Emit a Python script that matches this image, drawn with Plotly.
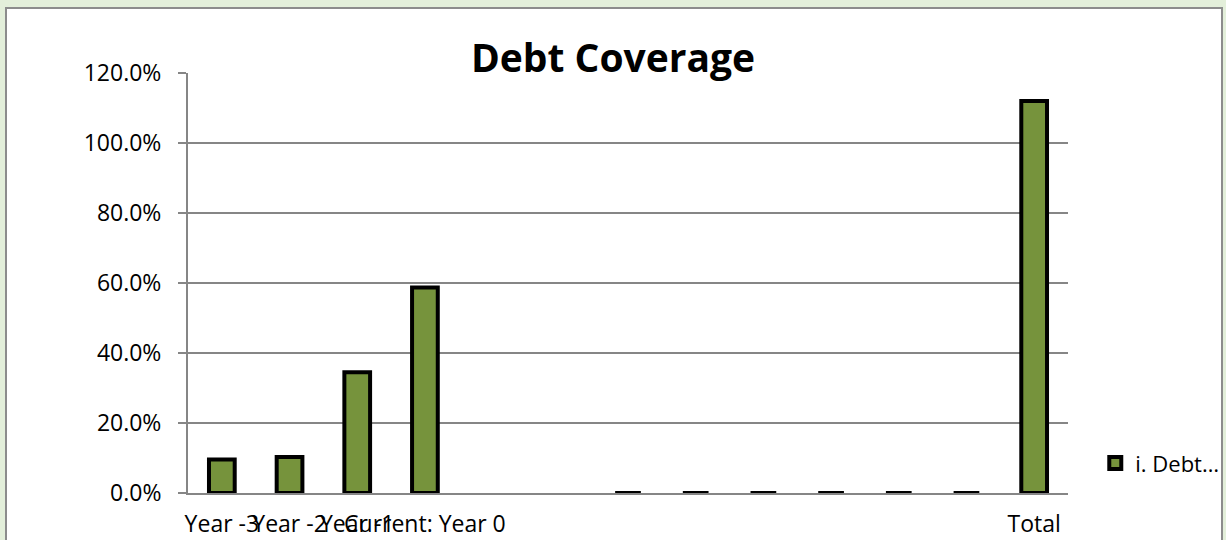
import plotly.graph_objects as go

categories = ["Year -3", "Year -2", "Year -1", "Current: Year 0", "", "", "", "", "", "", "", "", "Total"]
values = [0.096, 0.103, 0.345, 0.587, None, None, 0, 0, 0, 0, 0, 0, 1.12]
y_ticks = [0, 0.2, 0.4, 0.6, 0.8, 1.0, 1.2]
y_tick_labels = ["0.0%", "20.0%", "40.0%", "60.0%", "80.0%", "100.0%", "120.0%"]
series_name = "i. Debt…"

FONT = "Open Sans"
x_idx = list(range(len(categories)))

fig = go.Figure()
fig.add_trace(go.Bar(
    x=x_idx, y=values, name=series_name, width=0.38,
    marker=dict(color="#76933C", line=dict(color="#000000", width=4)),
    showlegend=True,
))

fig.update_layout(
    width=1226, height=540,
    margin=dict(l=188, r=158, t=73, b=47, autoexpand=False),
    paper_bgcolor="#E3EFDA",
    plot_bgcolor="#FFFFFF",
    font=dict(family=FONT, size=23, color="#000000"),
    title=dict(text="<b>Debt Coverage</b>", x=0.5, xref="container", xanchor="center",
               y=1 - 58 / 540, yref="container", yanchor="middle",
               font=dict(family=FONT, size=39, color="#000000")),
    showlegend=True,
    legend=dict(x=1.031, xanchor="left", y=0.071, yanchor="middle",
                bgcolor="rgba(0,0,0,0)", font=dict(family=FONT, size=22)),
    bargap=0.5,
    shapes=[dict(type="rect", xref="paper", yref="paper",
                 x0=(6 - 188) / 880, x1=(1222 - 188) / 880,
                 y0=(493 - 560) / 420, y1=(493 - 8) / 420,
                 fillcolor="#FFFFFF", line=dict(color="#8C8C8C", width=2), layer="below")],
)

fig.update_xaxes(
    range=[-0.5, len(categories) - 0.5],
    tickmode="array", tickvals=x_idx, ticktext=categories, tickangle=0,
    showgrid=False, zeroline=False, showline=True, linecolor="#868686", linewidth=2,
    ticks="", ticklabelstandoff=9,
)
fig.update_yaxes(
    range=[0, 1.2], tickmode="array", tickvals=y_ticks, ticktext=y_tick_labels,
    showgrid=True, gridcolor="#868686", gridwidth=2,
    zeroline=False, showline=True, linecolor="#868686", linewidth=2,
    ticks="outside", ticklen=8, tickcolor="#868686", tickwidth=2, ticklabelstandoff=12,
)

fig.write_html("out.html")
